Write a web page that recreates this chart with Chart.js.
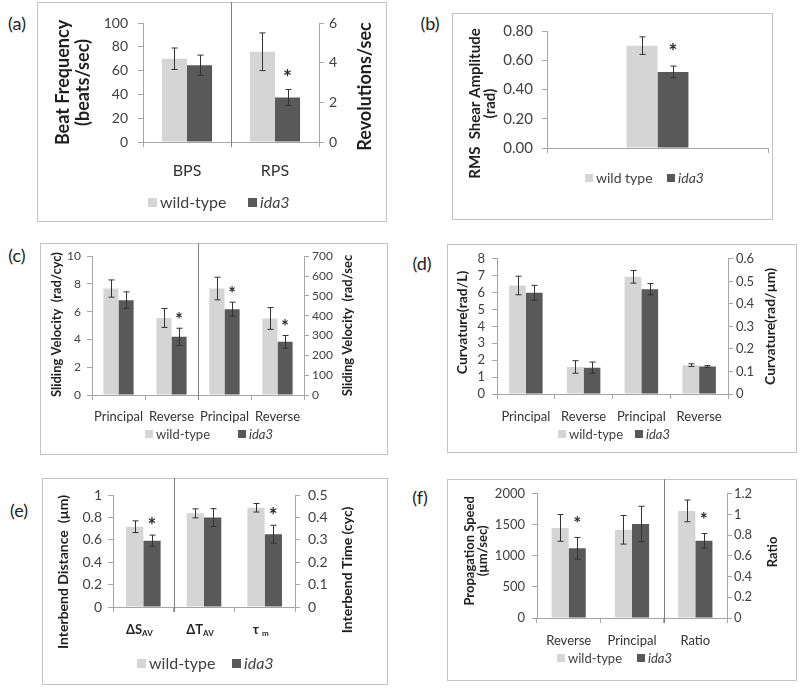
<!DOCTYPE html>
<html>
<head>
<meta charset="utf-8">
<script src="https://cdn.jsdelivr.net/npm/chart.js@4.4.1/dist/chart.umd.min.js"></script>
<style>
    html, body { margin: 0; padding: 0; background: #fff; }
    body { width: 800px; height: 697px; position: relative; overflow: hidden; font-family: Lato, "Open Sans", sans-serif; }
    .marco { position: absolute; border: 1px solid #c4c4c4; box-sizing: border-box; }
    canvas { position: absolute; }
    .letra { position: absolute; font-size: 18px; color: #222; transform: translate(-50%, -50%); }
    .cuadro { position: absolute; }
    .txt { position: absolute; color: #404040; line-height: 1; transform: translateY(-50%); white-space: nowrap; }
</style>
</head>
<body>
<script>
// ---- Datos ----

// (a) frecuencia de batido / revoluciones
const catA = ['BPS', 'RPS'];
const ejeA = ['y', 'y1'];
const wtA = [70, 4.55];
const wtErrA = [9, 0.95];
const idaA = [64.5, 2.25];
const idaErrA = [8.5, 0.4];
const sigA = [false, true];
const escalaA = [0, 100, 20];
const escalaA2 = [0, 6, 2];

// (b) amplitud de cizalla RMS
const catB = [''];
const ejeB = ['y'];
const wtB = [0.70];
const wtErrB = [0.06];
const idaB = [0.52];
const idaErrB = [0.04];
const sigB = [true];
const escalaB = [0, 0.8, 0.2];

// (c) velocidad de deslizamiento
const catC = ['Principal', 'Reverse', 'Principal', 'Reverse'];
const ejeC = ['y', 'y', 'y1', 'y1'];
const wtC = [7.67, 5.55, 537, 386];
const wtErrC = [0.62, 0.68, 57, 55];
const idaC = [6.83, 4.19, 433, 268];
const idaErrC = [0.6, 0.62, 35, 32];
const sigC = [false, true, true, true];
const escalaC = [0, 10, 2];
const escalaC2 = [0, 700, 100];

// (d) curvatura
const catD = ['Principal', 'Reverse', 'Principal', 'Reverse'];
const ejeD = ['y', 'y', 'y1', 'y1'];
const wtD = [6.42, 1.6, 0.52, 0.128];
const wtErrD = [0.55, 0.37, 0.028, 0.006];
const idaD = [5.99, 1.56, 0.465, 0.122];
const idaErrD = [0.44, 0.33, 0.025, 0.004];
const sigD = [false, false, false, false];
const escalaD = [0, 8, 1];
const escalaD2 = [0, 0.6, 0.1];

// (e) distancia y tiempo entre curvas
const catE = ['ΔS', 'ΔT', 'τ'];
const subE = ['AV', 'AV', 'm'];
const ejeE = ['y', 'y1', 'y1'];
const wtE = [0.717, 0.418, 0.443];
const wtErrE = [0.052, 0.02, 0.019];
const idaE = [0.592, 0.399, 0.325];
const idaErrE = [0.05, 0.04, 0.04];
const sigE = [true, false, true];
const escalaE = [0, 1, 0.2];
const escalaE2 = [0, 0.5, 0.1];

// (f) velocidad de propagación
const catF = ['Reverse', 'Principal', 'Ratio'];
const ejeF = ['y', 'y', 'y1'];
const wtF = [1451, 1420, 1.035];
const wtErrF = [215, 230, 0.105];
const idaF = [1122, 1514, 0.746];
const idaErrF = [175, 285, 0.07];
const sigF = [true, false, true];
const escalaF = [0, 2000, 500];
const escalaF2 = [0, 1.2, 0.2];

// ---- Estilo ----
const FAMILIA = 'Lato, "Open Sans", sans-serif';
const GRIS_CLARO = '#d5d5d5';
const GRIS_OSCURO = '#595959';
const LINEA_EJE = '#a6a6a6';
Chart.defaults.font.family = FAMILIA;
Chart.defaults.color = '#404040';

// números sin ceros de relleno: 1 en vez de 1.0, 2000 sin separador
const numeroSimple = v => String(parseFloat(Number(v).toFixed(6)));

// barras de error, asteriscos, separadores, títulos de eje y subíndices
const extras = {
    id: 'extras',
    afterDatasetsDraw(chart, args, o) {
        const { ctx, chartArea } = chart;
        const x = chart.scales.x;
        ctx.save();
        ctx.strokeStyle = '#808080';
        ctx.lineWidth = 1;
        (o.separadores || []).forEach(i => {
            const px = Math.round((x.getPixelForValue(i) + x.getPixelForValue(i + 1)) / 2) + 0.5;
            ctx.beginPath();
            ctx.moveTo(px, 0);
            ctx.lineTo(px, chartArea.bottom + 5);
            ctx.stroke();
        });
        chart.data.datasets.forEach((ds, di) => {
            const meta = chart.getDatasetMeta(di);
            const esc = chart.scales[ds.yAxisID];
            meta.data.forEach((bar, i) => {
                const v = ds.data[i];
                if (v == null) return;
                const e = ds.errores[i];
                const yA = esc.getPixelForValue(v + e);
                const yB = esc.getPixelForValue(v - e);
                const bx = Math.round(bar.x) + 0.5;
                ctx.strokeStyle = '#333';
                ctx.beginPath();
                ctx.moveTo(bx, yA); ctx.lineTo(bx, yB);
                ctx.moveTo(bx - 3, yA); ctx.lineTo(bx + 3, yA);
                ctx.moveTo(bx - 3, yB); ctx.lineTo(bx + 3, yB);
                ctx.stroke();
                if (ds.sig && ds.sig[i]) {
                    ctx.fillStyle = '#2a2a2a';
                    ctx.font = 'bold ' + o.tamAst + 'px ' + FAMILIA;
                    ctx.textAlign = 'center';
                    ctx.textBaseline = 'middle';
                    ctx.fillText('*', bar.x, yA - o.gapAst);
                }
            });
        });
        ctx.restore();
    },
    afterDraw(chart, args, o) {
        const { ctx, chartArea } = chart;
        const cy = (chartArea.top + chartArea.bottom) / 2;
        ctx.save();
        ctx.fillStyle = '#1f1f1f';
        ctx.textAlign = 'center';
        ctx.textBaseline = 'middle';
        (o.titulos || []).forEach(t => {
            ctx.save();
            ctx.translate(t.x, cy + (t.dy || 0));
            ctx.rotate(-Math.PI / 2);
            ctx.font = 'bold ' + t.tam + 'px ' + FAMILIA;
            t.lineas.forEach((l, i) => ctx.fillText(l, 0, i * t.lh));
            ctx.restore();
        });
        if (o.subindices) {
            const s = o.subindices;
            const x = chart.scales.x;
            ctx.textAlign = 'left';
            ctx.textBaseline = 'alphabetic';
            ctx.fillStyle = '#262626';
            s.main.forEach((m, i) => {
                ctx.font = 'bold ' + s.tam + 'px ' + FAMILIA;
                const w1 = ctx.measureText(m).width + (s.hueco[i] || 0);
                ctx.font = 'bold ' + s.tamSub + 'px ' + FAMILIA;
                const w2 = ctx.measureText(s.sub[i]).width;
                const x0 = x.getPixelForValue(i) - (w1 + w2) / 2 + s.dx;
                const yb = chartArea.bottom + s.dy;
                ctx.font = 'bold ' + s.tam + 'px ' + FAMILIA;
                ctx.fillText(m, x0, yb);
                ctx.font = 'bold ' + s.tamSub + 'px ' + FAMILIA;
                ctx.fillText(s.sub[i], x0 + w1, yb + 2);
            });
        }
        ctx.restore();
    }
};

function ejeY(esc, ancho, pos, tam, pad, formato) {
    return {
        type: 'linear', position: pos, min: esc[0], max: esc[1], stacked: false,
        ticks: { stepSize: esc[2], autoSkip: false, font: { size: tam }, color: '#404040', padding: pad, callback: formato || numeroSimple },
        grid: { drawOnChartArea: false, drawTicks: true, tickLength: 5, tickColor: LINEA_EJE },
        border: { color: LINEA_EJE },
        afterFit(s) { s.width = ancho; }
    };
}

function leyenda(l) {
    const nombres = [l.nombre || 'wild-type', 'ida3'];
    [GRIS_CLARO, GRIS_OSCURO].forEach((c, i) => {
        const sq = document.createElement('div');
        sq.className = 'cuadro';
        Object.assign(sq.style, { left: l.xs[i] + 'px', top: (l.y - l.lado / 2) + 'px', width: l.lado + 'px', height: l.lado + 'px', background: c });
        document.body.appendChild(sq);
        const t = document.createElement('div');
        t.className = 'txt';
        t.textContent = nombres[i];
        Object.assign(t.style, { left: (l.xs[i] + l.lado + 3) + 'px', top: l.y + 'px', fontSize: l.tam + 'px' });
        if (i === 1) t.style.fontStyle = 'italic';
        document.body.appendChild(t);
    });
}

function crearPanel(p) {
    const [bx, by, bw, bh] = p.caja;
    const [al, at, ar, ab] = p.area;
    const marco = document.createElement('div');
    marco.className = 'marco';
    Object.assign(marco.style, { left: bx + 'px', top: by + 'px', width: bw + 'px', height: bh + 'px' });
    document.body.appendChild(marco);
    const canvas = document.createElement('canvas');
    canvas.width = bw;
    canvas.height = bh;
    Object.assign(canvas.style, { left: bx + 'px', top: by + 'px', width: bw + 'px', height: bh + 'px' });
    document.body.appendChild(canvas);

    const letra = document.createElement('div');
    letra.className = 'letra';
    letra.textContent = p.letra[0];
    Object.assign(letra.style, { left: p.letra[1] + 'px', top: p.letra[2] + 'px' });
    document.body.appendChild(letra);

    // un par de series por eje, agrupadas por "stack" para compartir hueco
    const datasets = [];
    ['y', 'y1'].forEach(eje => {
        if (!p.eje.includes(eje)) return;
        const filtro = arr => arr.map((v, i) => p.eje[i] === eje ? v : null);
        datasets.push({ label: 'wild-type', stack: 'wt', yAxisID: eje, data: filtro(p.wt), errores: filtro(p.wtErr), backgroundColor: GRIS_CLARO });
        datasets.push({ label: 'ida3', stack: 'ida3', yAxisID: eje, data: filtro(p.ida), errores: filtro(p.idaErr),
            sig: p.sig.map((s, i) => s && p.eje[i] === eje), backgroundColor: GRIS_OSCURO });
    });
    datasets.forEach(d => { d.barPercentage = 1; d.categoryPercentage = p.pctCat; });

    const scales = {
        x: {
            type: 'category', offset: true,
            grid: { offset: true, drawOnChartArea: false, drawTicks: true, tickLength: 5, tickColor: LINEA_EJE },
            border: { color: LINEA_EJE },
            ticks: { display: !p.sinEtiquetasX, font: { size: p.tamX }, color: '#333', padding: p.padX, maxRotation: 0, autoSkip: false },
            afterFit(s) { s.height = by + bh - ab; }
        },
        y: ejeY(p.escala, al - bx, 'left', p.tamTick, p.padY, p.formato)
    };
    if (p.escala2) scales.y1 = ejeY(p.escala2, bx + bw - ar, 'right', p.tamTick, p.padY2);

    new Chart(canvas, {
        type: 'bar',
        data: { labels: p.cats, datasets: datasets },
        options: {
            responsive: false,
            animation: false,
            layout: { padding: { top: at - by, left: 0, bottom: 0, right: p.escala2 ? 0 : bx + bw - ar } },
            plugins: {
                legend: { display: false },
                tooltip: { enabled: false },
                extras: {
                    separadores: p.separadores,
                    tamAst: p.tamAst, gapAst: p.gapAst,
                    titulos: p.titulos.map(t => Object.assign({}, t, { x: t.x - bx })),
                    subindices: p.subindices
                }
            },
            scales: scales
        },
        plugins: [extras]
    });
    leyenda(p.leyenda);
}

crearPanel({
    letra: ['(a)', 17, 23],
    caja: [37, 2, 350, 220], area: [143, 23, 319, 142],
    cats: catA, eje: ejeA, wt: wtA, wtErr: wtErrA, ida: idaA, idaErr: idaErrA, sig: sigA,
    escala: escalaA, escala2: escalaA2, pctCat: 0.57,
    tamTick: 14, padY: 10, padY2: 5, tamX: 16, padX: 14,
    separadores: [0], tamAst: 21, gapAst: 11,
    titulos: [
        { lineas: ['Beat Frequency', '(beats/sec)'], x: 63, lh: 20, tam: 18, dy: 0 },
        { lineas: ['Revolutions/sec'], x: 365, lh: 20, tam: 18, dy: 4 }
    ],
    leyenda: { y: 202, xs: [148, 248], tam: 16, lado: 9 }
});

crearPanel({
    letra: ['(b)', 430, 23],
    caja: [452, 13, 321, 207], area: [547, 27, 768, 148],
    cats: catB, eje: ejeB, wt: wtB, wtErr: wtErrB, ida: idaB, idaErr: idaErrB, sig: sigB,
    escala: escalaB, pctCat: 0.28, sinEtiquetasX: true,
    tamTick: 15, padY: 9, tamX: 14, padX: 10,
    formato: v => v.toFixed(2),
    separadores: [], tamAst: 21, gapAst: 14,
    titulos: [
        { lineas: ['RMS  Shear Amplitude', '(rad)'], x: 475, lh: 15, tam: 15, dy: 14 }
    ],
    leyenda: { y: 178, xs: [585, 667], tam: 14, lado: 8, nombre: 'wild type' }
});

crearPanel({
    letra: ['(c)', 17, 255],
    caja: [40, 243, 348, 212], area: [92, 256, 304, 395],
    cats: catC, eje: ejeC, wt: wtC, wtErr: wtErrC, ida: idaC, idaErr: idaErrC, sig: sigC,
    escala: escalaC, escala2: escalaC2, pctCat: 0.57,
    tamTick: 12, padY: 6, padY2: 3, tamX: 13, padX: 9,
    separadores: [1], tamAst: 18, gapAst: 8.5,
    titulos: [
        { lineas: ['Sliding Velocity  (rad/cyc)'], x: 57, lh: 12, tam: 13, dy: -1 },
        { lineas: ['Sliding Velocity  (rad/sec'], x: 348, lh: 12, tam: 13, dy: 0 }
    ],
    leyenda: { y: 434, xs: [145, 238], tam: 13, lado: 8 }
});

crearPanel({
    letra: ['(d)', 422, 263],
    caja: [447, 244, 350, 209], area: [497, 255, 728, 394],
    cats: catD, eje: ejeD, wt: wtD, wtErr: wtErrD, ida: idaD, idaErr: idaErrD, sig: sigD,
    escala: escalaD, escala2: escalaD2, pctCat: 0.58,
    tamTick: 13, padY: 7, padY2: 3, tamX: 13, padX: 10,
    separadores: [], tamAst: 18, gapAst: 9,
    titulos: [
        { lineas: ['Curvature(rad/L)'], x: 462, lh: 12, tam: 14, dy: -4 },
        { lineas: ['Curvature(rad/µm)'], x: 770, lh: 12, tam: 14, dy: 0 }
    ],
    leyenda: { y: 434, xs: [558, 635], tam: 13, lado: 8 }
});

crearPanel({
    letra: ['(e)', 19, 510],
    caja: [42, 478, 346, 207], area: [113, 495, 295, 607],
    cats: catE, eje: ejeE, wt: wtE, wtErr: wtErrE, ida: idaE, idaErr: idaErrE, sig: sigE,
    escala: escalaE, escala2: escalaE2, pctCat: 0.57, sinEtiquetasX: true,
    tamTick: 14, padY: 6, padY2: 8, tamX: 13, padX: 10,
    separadores: [0], tamAst: 21, gapAst: 9,
    subindices: { main: catE, sub: subE, hueco: [0, 0, 3], tam: 13, tamSub: 8, dy: 27, dx: -4 },
    titulos: [
        { lineas: ['Interbend Distance  (µm)'], x: 63, lh: 14, tam: 14, dy: 21 },
        { lineas: ['Interbend Time (cyc)'], x: 347, lh: 14, tam: 14, dy: 19 }
    ],
    leyenda: { y: 663, xs: [137, 232], tam: 16, lado: 9 }
});

crearPanel({
    letra: ['(f)', 420, 497],
    caja: [447, 479, 350, 202], area: [537, 491, 727, 618],
    cats: catF, eje: ejeF, wt: wtF, wtErr: wtErrF, ida: idaF, idaErr: idaErrF, sig: sigF,
    escala: escalaF, escala2: escalaF2, pctCat: 0.54,
    tamTick: 13, padY: 7, padY2: 2, tamX: 13, padX: 10,
    separadores: [1], tamAst: 19, gapAst: 14,
    titulos: [
        { lineas: ['Propagation Speed', '(µm/sec)'], x: 470, lh: 13, tam: 13, dy: -5 },
        { lineas: ['Ratio'], x: 773, lh: 13, tam: 13, dy: -4 }
    ],
    leyenda: { y: 658, xs: [557, 637], tam: 13, lado: 8 }
});
</script>
</body>
</html>
